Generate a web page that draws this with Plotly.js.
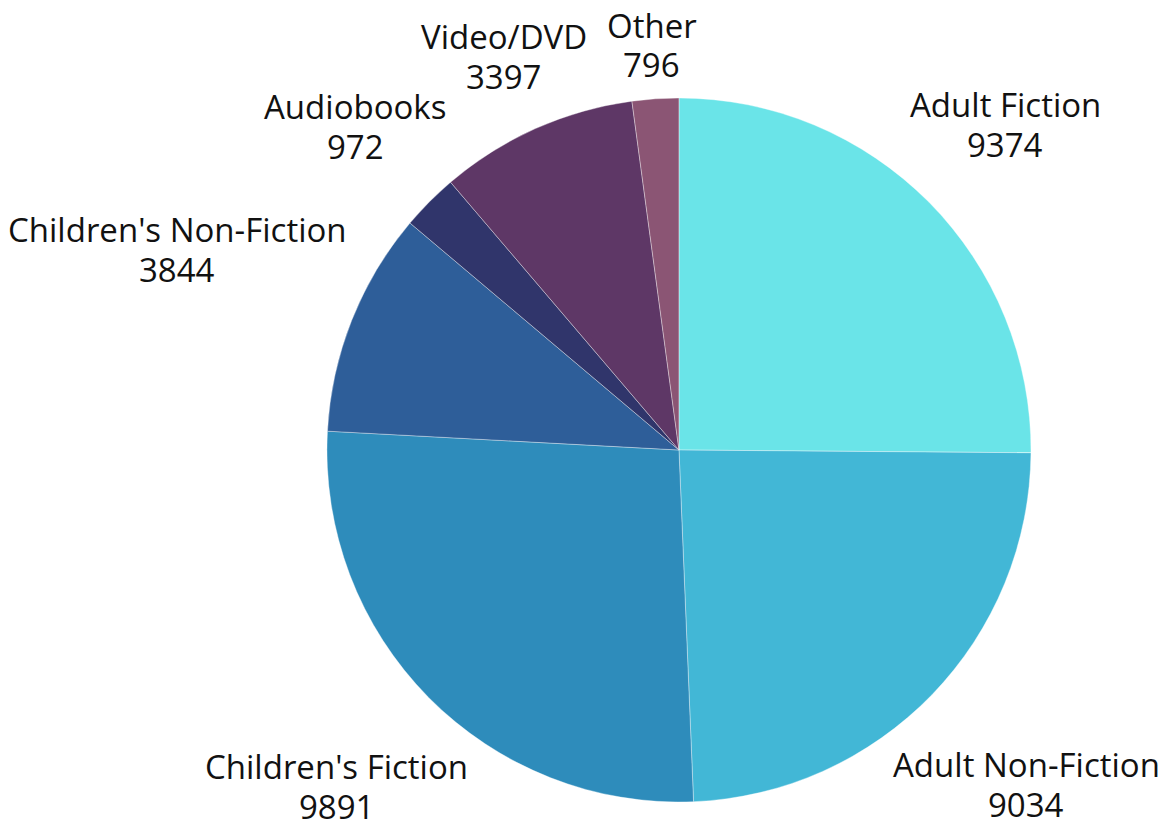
<!DOCTYPE html>
<html>
<head>
<meta charset="utf-8">
<script src="https://cdn.plot.ly/plotly-3.0.1.min.js"></script>
<style>html,body{margin:0;padding:0;background:#fff}#chart{width:1164px;height:820px}</style>
</head>
<body>
<div id="chart"></div>
<script>
const categories = ["Adult Fiction", "Adult Non-Fiction", "Children's Fiction", "Children's Non-Fiction", "Audiobooks", "Video/DVD", "Other"];
const circulation = [9374, 9034, 9891, 3844, 972, 3397, 796];
const sliceColors = ["#6ae4e8", "#42b7d6", "#2e8cbb", "#2e5e99", "#30356b", "#5e3766", "#8b5574"];

const W = 1164, H = 820;
const FONT = '"Open Sans", "Noto Sans", sans-serif';
const FS = 33;
const domX = [0.2, 0.9666];
const domY = [18 / H, 722 / H];

// pie geometry in pixels (derived from the domain)
const cx = W * (domX[0] + domX[1]) / 2;
const cy = H - H * (domY[0] + domY[1]) / 2;
const R = Math.min(W * (domX[1] - domX[0]), H * (domY[1] - domY[0])) / 2;
const clearR = R + 20;     // nearest point of a label box from the centre
const halfH = 31.5;        // half visual height of the two-line label block
const lineGap = 40;        // distance between the two lines' centres

const ctx = document.createElement('canvas').getContext('2d');
ctx.font = FS + 'px "Open Sans"';
function tw(s) { return ctx.measureText(s).width; }

const total = circulation.reduce((a, b) => a + b, 0);
const annotations = [];
let cum = 0;
categories.forEach((cat, i) => {
  const v = circulation[i];
  const mid = (cum + v / 2) / total * 2 * Math.PI;
  cum += v;
  const ux = Math.sin(mid), uy = -Math.cos(mid);
  const halfW = Math.max(tw(cat), tw(String(v))) / 2;
  const nearest = d => {
    const bx = d * ux, by = d * uy;
    const px = Math.min(Math.max(0, bx - halfW), bx + halfW);
    const py = Math.min(Math.max(0, by - halfH), by + halfH);
    return Math.hypot(px, py);
  };
  let lo = 0, hi = 2000;
  for (let k = 0; k < 60; k++) {
    const m = (lo + hi) / 2;
    if (nearest(m) < clearR) lo = m; else hi = m;
  }
  const bx = cx + hi * ux, by = cy + hi * uy - 1.5;
  [[cat, by - lineGap / 2], [String(v), by + lineGap / 2]].forEach(([t, y]) => {
    annotations.push({
      text: t, xref: 'paper', yref: 'paper',
      x: bx / W, y: 1 - y / H,
      xanchor: 'center', yanchor: 'middle',
      showarrow: false,
      font: {family: FONT, size: FS, color: '#111111'}
    });
  });
});

const trace = {
  type: 'pie',
  labels: categories,
  values: circulation,
  sort: false,
  direction: 'clockwise',
  rotation: 0,
  textinfo: 'none',
  marker: {colors: sliceColors, line: {color: 'rgba(255,255,255,0.6)', width: 0.6}},
  domain: {x: domX, y: domY},
  hoverinfo: 'label+value+percent',
  showlegend: false
};

const layout = {
  width: W,
  height: H,
  margin: {l: 0, r: 0, t: 0, b: 0},
  paper_bgcolor: '#ffffff',
  font: {family: FONT, color: '#111111'},
  showlegend: false,
  annotations: annotations
};

Plotly.newPlot('chart', [trace], layout, {displayModeBar: false, staticPlot: true});
</script>
</body>
</html>
